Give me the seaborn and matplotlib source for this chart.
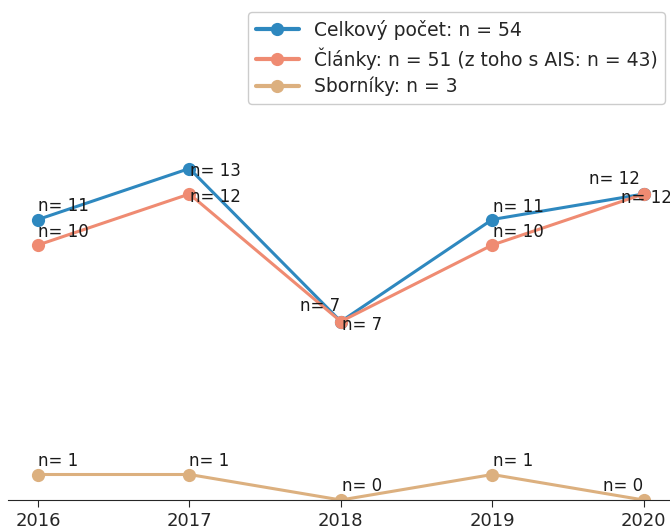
import matplotlib
matplotlib.use("Agg")
import matplotlib.pyplot as plt
import seaborn as sns
import pandas as pd

years = [2016, 2017, 2018, 2019, 2020]
celkem = [11, 13, 7, 11, 12]
clanky = [10, 12, 7, 10, 12]
sborniky = [1, 1, 0, 1, 0]
legend_labels = [
    "Celkový počet: n = 54",
    "Články: n = 51 (z toho s AIS: n = 43)",
    "Sborníky: n = 3",
]
colors = ["#2E88BF", "#EF8B72", "#DCB07F"]

# label offsets (style: dx in years, dy in data units)
offsets = [
    [(0, 0.33), (0.005, -0.29), (-0.27, 0.41), (0.005, 0.29), (-0.36, 0.39)],
    [(0, 0.31), (0.005, -0.31), (0.005, -0.33), (0.005, 0.31), (-0.15, -0.35)],
    [(0, 0.33), (0, 0.33), (0.005, 0.37), (0.005, 0.33), (-0.27, 0.37)],
]

sns.set_style("ticks")
plt.rcParams['font.family'] = ['DejaVu Sans']

fig = plt.figure(figsize=(6.7, 5.27), dpi=100)
ax = fig.add_axes([7.7 / 670, 27 / 527, (674 - 7.7) / 670, (500 - 15.5) / 527])

series = [celkem, clanky, sborniky]
for vals, lab, col in zip(series, legend_labels, colors):
    df = pd.DataFrame({"rok": years, "n": vals})
    sns.lineplot(data=df, x="rok", y="n", ax=ax, color=col, marker="o",
                 markersize=9.5, markeredgewidth=0, linewidth=2.2, label=lab)

for vals, offs in zip(series, offsets):
    for x, v, (dx, dy) in zip(years, vals, offs):
        ax.text(x + dx, v + dy, f"n= {v}", fontsize=12, color="#1a1a1a")

ax.set_xlim(2015.8, 2020.2)
ax.set_ylim(0, 19)
ax.set_xticks(years)
ax.set_xticklabels([str(y) for y in years], fontsize=13)
ax.tick_params(axis="x", length=5, pad=4)
ax.set_yticks([])
ax.set_xlabel("")
ax.set_ylabel("")
for s in ["left", "top", "right"]:
    ax.spines[s].set_visible(False)

leg = ax.legend(loc="upper right", bbox_to_anchor=(665 / 670, 1 - 12 / 527),
                bbox_transform=fig.transFigure, fontsize=13.5, handlelength=2.3,
                borderaxespad=0, labelspacing=0.4, framealpha=1)
for ln in leg.get_lines():
    ln.set_linewidth(3)

fig.savefig("out.png", dpi=100)
